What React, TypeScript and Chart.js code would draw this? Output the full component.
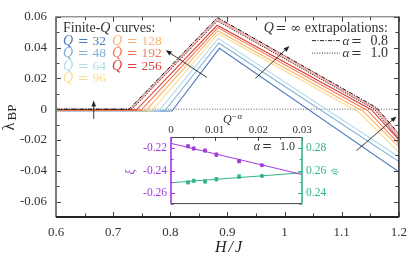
import React, { useEffect, useRef } from 'react';
import { Chart, registerables } from 'chart.js';
Chart.register(...registerables);

const SERIF = '"Liberation Serif", "DejaVu Serif", serif';

// ---------------- Main panel data ----------------
const X_MIN = 0.6, X_MAX = 1.2, Y_MIN = -0.07, Y_MAX = 0.06;
const Q_LABELS = ['32', '48', '64', '96', '128', '192', '256'];
const Q_COLORS = ['#4b79c0', '#7fb1d6', '#b1dbeb', '#f8dc8e', '#fcb46c', '#f17a55', '#dc3d35'];

const q32X = [0.6, 0.803, 0.886, 1.2];
const q32Y = [-0.0012, -0.0012, 0.0395, -0.0406];
const q48X = [0.6, 0.79, 0.885, 1.2];
const q48Y = [-0.0012, -0.0012, 0.043, -0.034];
const q64X = [0.6, 0.78, 0.884, 1.2];
const q64Y = [-0.0011, -0.0011, 0.046, -0.031];
const q96X = [0.6, 0.768, 0.884, 1.13, 1.2];
const q96Y = [-0.001, -0.001, 0.049, -0.002, -0.028];
const q128X = [0.6, 0.758, 0.883, 1.138, 1.2];
const q128Y = [-0.0008, -0.0008, 0.051, -0.0015, -0.0245];
const q192X = [0.6, 0.749, 0.883, 1.145, 1.2];
const q192Y = [-0.0006, -0.0006, 0.053, -0.0008, -0.0225];
const q256X = [0.6, 0.741, 0.882, 1.152, 1.2];
const q256Y = [-0.0004, -0.0004, 0.0545, -0.0003, -0.02];
const alpha10X = [0.6, 0.733, 0.8825, 1.157, 1.2];
const alpha10Y = [0, 0, 0.0572, 0, -0.0195];
const alpha08X = [0.6, 0.728, 0.8825, 1.161, 1.2];
const alpha08Y = [0, 0, 0.0595, 0.001, -0.016];

// arrows [x0, y0, x1, y1] in data units (head at x1,y1)
const ARROWS = [
  [0.666, -0.0063, 0.666, 0.0056],
  [0.864, 0.0206, 0.792, 0.0383],
  [0.949, 0.02, 1.0085, 0.0411],
  [1.1257, -0.0269, 1.196, -0.0047],
];

// ---------------- Inset data ----------------
const INV_Q = [0.0039, 0.0052, 0.0078, 0.0104, 0.0156, 0.0208];
const XI = [-0.2183, -0.2203, -0.2221, -0.2258, -0.2315, -0.2352];
const XI_ERR = [0.0012, 0.0012, 0.0012, 0.0014, 0.0015, 0.0008];
const PSI = [0.2494, 0.2509, 0.2503, 0.2522, 0.2546, 0.2552];
const PSI_ERR = [0.0012, 0.0012, 0.0014, 0.0014, 0.0015, 0.0008];
const XI_FIT_X = [0, 0.03];
const XI_FIT_Y = [-0.2157, -0.2435];
const PSI_FIT_X = [0, 0.03];
const PSI_FIT_Y = [0.2491, 0.258];

const PURPLE = '#a23bdc';
const GREEN = '#33b38b';

const pts = (xs: number[], ys: number[]) => xs.map((x, i) => ({ x, y: ys[i] }));

function drawArrow(ctx: CanvasRenderingContext2D, x0: number, y0: number, x1: number, y1: number) {
  const ang = Math.atan2(y1 - y0, x1 - x0);
  const c = Math.cos(ang), s = Math.sin(ang);
  const L = 6, W = 2.3;
  ctx.beginPath();
  ctx.moveTo(x0, y0);
  ctx.lineTo(x1 - L * 0.7 * c, y1 - L * 0.7 * s);
  ctx.stroke();
  ctx.beginPath();
  ctx.moveTo(x1, y1);
  ctx.lineTo(x1 - L * c + W * s, y1 - L * s - W * c);
  ctx.lineTo(x1 - L * c - W * s, y1 - L * s + W * c);
  ctx.closePath();
  ctx.fill();
}

function qLabel(ctx: CanvasRenderingContext2D, x: number, y: number, num: string, color: string) {
  ctx.fillStyle = color;
  ctx.textAlign = 'left';
  ctx.font = `italic 14px ${SERIF}`;
  ctx.fillText('Q', x, y);
  ctx.textAlign = 'center';
  ctx.font = '13px "DejaVu Serif"';
  ctx.fillText('=', x + 20.2, y);
  ctx.textAlign = 'left';
  ctx.font = `13.5px ${SERIF}`;
  ctx.fillText(num, x + 29.4, y);
}

const mainDecor = {
  id: 'mainDecor',
  beforeDatasetsDraw(chart: any) {
    const { ctx, chartArea: a, scales } = chart;
    const y0 = scales.y.getPixelForValue(0);
    ctx.save();
    ctx.strokeStyle = '#333';
    ctx.lineWidth = 0.8;
    ctx.setLineDash([1, 1.6]);
    ctx.beginPath();
    ctx.moveTo(a.left, y0);
    ctx.lineTo(a.right, y0);
    ctx.stroke();
    ctx.restore();
  },
  afterDatasetsDraw(chart: any) {
    const { ctx, chartArea: a, scales } = chart;
    const xs = scales.x, ys = scales.y;
    ctx.save();
    // arrows
    ctx.strokeStyle = '#222';
    ctx.fillStyle = '#222';
    ctx.lineWidth = 0.9;
    ARROWS.forEach(([ax0, ay0, ax1, ay1]) => {
      drawArrow(ctx, xs.getPixelForValue(ax0), ys.getPixelForValue(ay0), xs.getPixelForValue(ax1), ys.getPixelForValue(ay1));
    });
    // ticks
    ctx.strokeStyle = '#444';
    ctx.lineWidth = 1;
    xs.ticks.forEach((t: any) => {
      const k = Math.round(t.value * 100);
      const len = k % 10 === 0 ? 5 : 3.5;
      const px = Math.round(xs.getPixelForValue(t.value)) + 0.5;
      ctx.beginPath();
      ctx.moveTo(px, a.bottom);
      ctx.lineTo(px, a.bottom - len);
      ctx.moveTo(px, a.top);
      ctx.lineTo(px, a.top + len);
      ctx.stroke();
    });
    ys.ticks.forEach((t: any) => {
      const k = Math.round(t.value * 100);
      const len = k % 2 === 0 ? 5 : 3.5;
      const py = Math.round(ys.getPixelForValue(t.value)) + 0.5;
      ctx.beginPath();
      ctx.moveTo(a.left, py);
      ctx.lineTo(a.left + len, py);
      ctx.moveTo(a.right, py);
      ctx.lineTo(a.right - len, py);
      ctx.stroke();
    });
    // frame
    ctx.strokeStyle = '#666';
    ctx.lineWidth = 1;
    ctx.strokeRect(a.left, a.top, a.right - a.left, a.bottom - a.top);
    ctx.lineWidth = 1.8;
    ctx.strokeStyle = '#777';
    ctx.beginPath();
    ctx.moveTo(a.left, a.top);
    ctx.lineTo(a.left, a.bottom);
    ctx.stroke();
    ctx.strokeStyle = '#222';
    ctx.beginPath();
    ctx.moveTo(a.left, a.bottom);
    ctx.lineTo(a.right, a.bottom);
    ctx.stroke();
    ctx.lineWidth = 1.4;
    ctx.strokeStyle = '#333';
    ctx.beginPath();
    ctx.moveTo(a.right, a.top);
    ctx.lineTo(a.right, a.bottom);
    ctx.stroke();

    // legend left
    const lx = a.left + 7, lx2 = a.left + 56;
    ctx.textBaseline = 'alphabetic';
    ctx.fillStyle = '#333';
    ctx.textAlign = 'left';
    ctx.font = `14px ${SERIF}`;
    ctx.fillText('Finite-', lx, a.top + 15.5);
    const w1 = ctx.measureText('Finite-').width;
    ctx.font = `italic 14px ${SERIF}`;
    ctx.fillText('Q', lx + w1, a.top + 15.5);
    const w2 = ctx.measureText('Q').width;
    ctx.font = `14px ${SERIF}`;
    ctx.fillText(' curves:', lx + w1 + w2 + 1, a.top + 15.5);
    const rows = [27.8, 40.3, 52.8, 64.8];
    [0, 1, 2, 3].forEach((i) => qLabel(ctx, lx, a.top + rows[i], Q_LABELS[i], Q_COLORS[i]));
    [4, 5, 6].forEach((i, j) => qLabel(ctx, lx2, a.top + rows[j], Q_LABELS[i], Q_COLORS[i]));

    // legend right
    const rx = a.right - 11;
    ctx.fillStyle = '#333';
    ctx.textAlign = 'right';
    ctx.font = `14px ${SERIF}`;
    ctx.fillText('extrapolations:', rx, a.top + 15.5);
    const we = ctx.measureText('extrapolations:').width;
    ctx.font = '13px "DejaVu Serif"';
    ctx.fillText('∞', rx - we - 3.5, a.top + 15.5);
    const winf = ctx.measureText('∞').width;
    ctx.textAlign = 'center';
    ctx.fillText('=', rx - we - 3.5 - winf - 9.5, a.top + 15.5);
    ctx.textAlign = 'right';
    ctx.font = `italic 14px ${SERIF}`;
    ctx.fillText('Q', rx - we - 3.5 - winf - 16.5, a.top + 15.5);

    const drawAlphaRow = (yy: number, val: string, dash: number[]) => {
      ctx.strokeStyle = '#222';
      ctx.lineWidth = 1;
      ctx.setLineDash(dash);
      ctx.beginPath();
      ctx.moveTo(rx - 76, yy - 4);
      ctx.lineTo(rx - 48, yy - 4);
      ctx.stroke();
      ctx.setLineDash([]);
      ctx.fillStyle = '#333';
      ctx.textAlign = 'right';
      ctx.font = `14px ${SERIF}`;
      ctx.fillText(val, rx, yy);
      ctx.textAlign = 'center';
      ctx.font = '13px "DejaVu Serif"';
      ctx.fillText('=', rx - 31.5, yy);
      ctx.textAlign = 'right';
      ctx.font = `italic 13px ${SERIF}`;
      ctx.fillText('α', rx - 38.5, yy);
    };
    drawAlphaRow(a.top + rows[0], '0.8', [4, 1.5, 1, 1.5]);
    drawAlphaRow(a.top + rows[1], '1.0', [1, 1.5]);

    // axis titles
    ctx.fillStyle = '#222';
    ctx.font = `italic 16px ${SERIF}`;
    ctx.textAlign = 'left';
    const tb = 251.5;
    ctx.fillText('H', 215, tb);
    ctx.fillText('/', 228.5, tb);
    ctx.fillText('J', 235, tb);

    ctx.save();
    ctx.translate(13.5, 130.5);
    ctx.rotate(-Math.PI / 2);
    ctx.font = `16px ${SERIF}`;
    ctx.textAlign = 'left';
    ctx.fillText('λ', 0, 0);
    ctx.font = `13px ${SERIF}`;
    ctx.fillText('BP', 10, 2);
    ctx.restore();
    ctx.restore();
  },
};

function MainChart() {
  const ref = useRef<HTMLCanvasElement | null>(null);
  useEffect(() => {
    const canvas = ref.current;
    if (!canvas) return;
    const qSeries = [
      { xs: q256X, ys: q256Y, i: 6 },
      { xs: q192X, ys: q192Y, i: 5 },
      { xs: q128X, ys: q128Y, i: 4 },
      { xs: q96X, ys: q96Y, i: 3 },
      { xs: q64X, ys: q64Y, i: 2 },
      { xs: q48X, ys: q48Y, i: 1 },
      { xs: q32X, ys: q32Y, i: 0 },
    ];
    const datasets: any[] = [
      {
        label: 'alpha=0.8',
        data: pts(alpha08X, alpha08Y),
        borderColor: '#111',
        borderWidth: 1,
        borderDash: [4, 1.5, 1, 1.5],
        fill: '+1',
        backgroundColor: 'rgba(238,120,120,0.55)',
        pointRadius: 0,
      },
      {
        label: 'alpha=1.0',
        data: pts(alpha10X, alpha10Y),
        borderColor: '#111',
        borderWidth: 1,
        borderDash: [1, 1.5],
        fill: false,
        pointRadius: 0,
      },
      ...qSeries.map((s) => ({
        label: 'Q=' + Q_LABELS[s.i],
        data: pts(s.xs, s.ys),
        borderColor: Q_COLORS[s.i],
        borderWidth: 1.1,
        fill: false,
        pointRadius: 0,
      })),
    ];
    const chart = new Chart(canvas, {
      type: 'line',
      data: { datasets },
      options: {
        animation: false,
        responsive: false,
        events: [],
        layout: { padding: { left: 0, right: 13, top: 14, bottom: 0 } },
        elements: { line: { tension: 0 } },
        plugins: {
          legend: { display: false },
          tooltip: { enabled: false },
          filler: { drawTime: 'beforeDatasetsDraw' },
        },
        scales: {
          x: {
            type: 'linear',
            min: X_MIN,
            max: X_MAX,
            grid: { display: false, drawTicks: false },
            border: { display: false },
            ticks: {
              stepSize: 0.05,
              autoSkip: false,
              maxRotation: 0,
              padding: 8,
              color: '#333',
              font: { family: SERIF, size: 13 },
              callback: (v: any) => {
                const k = Math.round(Number(v) * 100);
                return k % 10 === 0 ? String(k / 100) : '';
              },
            },
            afterFit: (s: any) => {
              s.height = 42;
            },
          },
          y: {
            type: 'linear',
            min: Y_MIN,
            max: Y_MAX,
            grid: { display: false, drawTicks: false },
            border: { display: false },
            ticks: {
              stepSize: 0.01,
              autoSkip: false,
              padding: 9,
              color: '#333',
              font: { family: SERIF, size: 13 },
              callback: (v: any) => {
                const k = Math.round(Number(v) * 100);
                if (k % 2 !== 0) return '';
                return k === 0 ? '0' : (k / 100).toFixed(2);
              },
            },
            afterFit: (s: any) => {
              s.width = 56;
            },
          },
        },
      } as any,
      plugins: [mainDecor],
    });
    return () => chart.destroy();
  }, []);
  return <canvas ref={ref} width={415} height={259} style={{ position: 'absolute', left: 0, top: 0, width: 415, height: 259 }} />;
}

const insetDecor = {
  id: 'insetDecor',
  afterDatasetsDraw(chart: any) {
    const { ctx, chartArea: a, scales } = chart;
    const xs = scales.x, yl = scales.y, yr = scales.y2;
    ctx.save();
    // error bars
    const bars = (vals: number[], errs: number[], sc: any, color: string) => {
      ctx.strokeStyle = color;
      ctx.lineWidth = 1;
      vals.forEach((v, i) => {
        const px = xs.getPixelForValue(INV_Q[i]);
        const top = sc.getPixelForValue(v + errs[i]);
        const bot = sc.getPixelForValue(v - errs[i]);
        ctx.beginPath();
        ctx.moveTo(px, top);
        ctx.lineTo(px, bot);
        ctx.moveTo(px - 1.8, top);
        ctx.lineTo(px + 1.8, top);
        ctx.moveTo(px - 1.8, bot);
        ctx.lineTo(px + 1.8, bot);
        ctx.stroke();
      });
    };
    bars(XI, XI_ERR, yl, PURPLE);
    bars(PSI, PSI_ERR, yr, GREEN);

    // ticks
    ctx.lineWidth = 1;
    ctx.strokeStyle = '#444';
    xs.ticks.forEach((t: any) => {
      const k = Math.round(t.value * 1000);
      const len = k % 10 === 0 ? 4 : 2.5;
      const px = Math.round(xs.getPixelForValue(t.value)) + 0.5;
      ctx.beginPath();
      ctx.moveTo(px, a.top);
      ctx.lineTo(px, a.top + len);
      ctx.stroke();
    });
    ctx.strokeStyle = PURPLE;
    yl.ticks.forEach((t: any) => {
      const k = Math.round(t.value * 100);
      const len = k % 2 === 0 ? 4 : 2.5;
      const py = Math.round(yl.getPixelForValue(t.value)) + 0.5;
      ctx.beginPath();
      ctx.moveTo(a.left, py);
      ctx.lineTo(a.left + len, py);
      ctx.stroke();
    });
    ctx.strokeStyle = GREEN;
    yr.ticks.forEach((t: any) => {
      const k = Math.round(t.value * 100);
      const len = k % 2 === 0 ? 4 : 2.5;
      const py = Math.round(yr.getPixelForValue(t.value)) + 0.5;
      ctx.beginPath();
      ctx.moveTo(a.right, py);
      ctx.lineTo(a.right - len, py);
      ctx.stroke();
    });
    // frame
    ctx.strokeStyle = '#444';
    ctx.lineWidth = 1;
    ctx.beginPath();
    ctx.moveTo(a.left, a.top + 0.5);
    ctx.lineTo(a.right, a.top + 0.5);
    ctx.moveTo(a.left, a.bottom - 0.5);
    ctx.lineTo(a.right, a.bottom - 0.5);
    ctx.stroke();
    ctx.lineWidth = 1.6;
    ctx.strokeStyle = PURPLE;
    ctx.beginPath();
    ctx.moveTo(a.left, a.top);
    ctx.lineTo(a.left, a.bottom);
    ctx.stroke();
    ctx.strokeStyle = GREEN;
    ctx.beginPath();
    ctx.moveTo(a.right, a.top);
    ctx.lineTo(a.right, a.bottom);
    ctx.stroke();

    // α = 1.0
    ctx.fillStyle = '#333';
    ctx.textBaseline = 'alphabetic';
    ctx.textAlign = 'right';
    ctx.font = `12px ${SERIF}`;
    ctx.fillText('1.0', a.right - 7, a.top + 13);
    ctx.textAlign = 'center';
    ctx.font = '12px "DejaVu Serif"';
    ctx.fillText('=', a.right - 35, a.top + 13);
    ctx.textAlign = 'right';
    ctx.font = `italic 12px ${SERIF}`;
    ctx.fillText('α', a.right - 42, a.top + 13);

    // Q^{-α}
    ctx.fillStyle = '#333';
    ctx.textAlign = 'left';
    ctx.font = `italic 12px ${SERIF}`;
    ctx.fillText('Q', a.left + 52, a.top - 14.5);
    ctx.font = `9px ${SERIF}`;
    ctx.fillText('−', a.left + 60.5, a.top - 18.5);
    ctx.font = `italic 9px ${SERIF}`;
    ctx.fillText('α', a.left + 66.5, a.top - 18.5);

    // ξ label
    ctx.save();
    ctx.fillStyle = PURPLE;
    ctx.translate(a.left - 40, a.top + 35);
    ctx.rotate(-Math.PI / 2);
    ctx.textAlign = 'center';
    ctx.textBaseline = 'middle';
    ctx.font = `italic 12px ${SERIF}`;
    ctx.fillText('ξ', 0, 0);
    ctx.restore();
    // ψ label
    ctx.save();
    ctx.fillStyle = GREEN;
    ctx.translate(a.right + 33, a.top + 34.5);
    ctx.rotate(Math.PI / 2);
    ctx.textAlign = 'center';
    ctx.textBaseline = 'middle';
    ctx.font = `italic 11px ${SERIF}`;
    ctx.fillText('ψ', 0, 0);
    ctx.restore();
    ctx.restore();
  },
};

function InsetChart() {
  const ref = useRef<HTMLCanvasElement | null>(null);
  useEffect(() => {
    const canvas = ref.current;
    if (!canvas) return;
    const fmt = (v: any) => {
      const k = Math.round(Number(v) * 100);
      return k % 2 !== 0 ? '' : (k / 100).toFixed(2);
    };
    const chart = new Chart(canvas, {
      type: 'line',
      data: {
        datasets: [
          {
            data: pts(INV_Q, XI),
            yAxisID: 'y',
            showLine: false,
            pointRadius: 1.6,
            pointBackgroundColor: PURPLE,
            pointBorderColor: PURPLE,
            borderColor: PURPLE,
          },
          {
            data: pts(XI_FIT_X, XI_FIT_Y),
            yAxisID: 'y',
            borderColor: PURPLE,
            borderWidth: 1,
            pointRadius: 0,
          },
          {
            data: pts(INV_Q, PSI),
            yAxisID: 'y2',
            showLine: false,
            pointRadius: 1.6,
            pointBackgroundColor: GREEN,
            pointBorderColor: GREEN,
            borderColor: GREEN,
          },
          {
            data: pts(PSI_FIT_X, PSI_FIT_Y),
            yAxisID: 'y2',
            borderColor: GREEN,
            borderWidth: 1,
            pointRadius: 0,
          },
        ],
      },
      options: {
        animation: false,
        responsive: false,
        events: [],
        layout: { padding: { left: 0, right: 0, top: 0, bottom: 8 } },
        plugins: { legend: { display: false }, tooltip: { enabled: false } },
        scales: {
          x: {
            type: 'linear',
            position: 'top',
            min: 0,
            max: 0.03,
            grid: { display: false, drawTicks: false },
            border: { display: false },
            ticks: {
              stepSize: 0.005,
              autoSkip: false,
              maxRotation: 0,
              padding: 0,
              color: '#333',
              font: { family: SERIF, size: 11 },
              callback: (v: any) => {
                const k = Math.round(Number(v) * 1000);
                if (k % 10 !== 0) return '';
                return k === 0 ? '0' : (k / 1000).toFixed(2);
              },
            },
            afterFit: (s: any) => {
              s.height = 27;
            },
          },
          y: {
            type: 'linear',
            position: 'left',
            min: -0.27,
            max: -0.21,
            grid: { display: false, drawTicks: false },
            border: { display: false },
            ticks: {
              stepSize: 0.01,
              autoSkip: false,
              padding: 4,
              color: PURPLE,
              font: { family: SERIF, size: 11.5 },
              callback: fmt,
            },
            afterFit: (s: any) => {
              s.width = 51;
            },
          },
          y2: {
            type: 'linear',
            position: 'right',
            min: 0.23,
            max: 0.29,
            grid: { display: false, drawTicks: false },
            border: { display: false },
            ticks: {
              stepSize: 0.01,
              autoSkip: false,
              padding: 4,
              color: GREEN,
              font: { family: SERIF, size: 11.5 },
              callback: fmt,
            },
            afterFit: (s: any) => {
              s.width = 53;
            },
          },
        },
      } as any,
      plugins: [insetDecor],
    });
    return () => chart.destroy();
  }, []);
  return <canvas ref={ref} width={235} height={105} style={{ position: 'absolute', left: 120, top: 110, width: 235, height: 105 }} />;
}

export default function App() {
  useEffect(() => {
    document.body.style.margin = '0';
  }, []);
  return (
    <div style={{ position: 'fixed', left: 0, top: 0, width: 415, height: 259, background: '#fff', overflow: 'hidden' }}>
      <MainChart />
      <InsetChart />
    </div>
  );
}
